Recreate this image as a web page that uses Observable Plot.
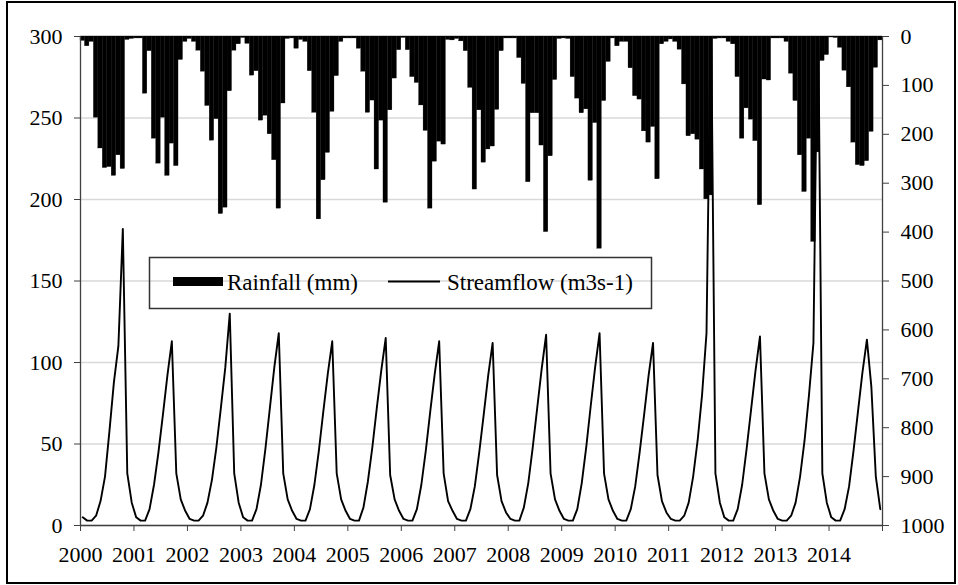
<!DOCTYPE html>
<html><head><meta charset="utf-8">
<script src="https://cdn.jsdelivr.net/npm/d3@7"></script>
<script src="https://cdn.jsdelivr.net/npm/@observablehq/plot@0.6"></script>
<style>
html,body{margin:0;padding:0;background:#fff;}
#chart{position:relative;width:958px;height:585px;overflow:hidden;}
#frame{position:absolute;left:6px;top:1px;width:950px;height:583px;border:2px solid #000;box-sizing:border-box;pointer-events:none;}
</style></head><body><div id="chart"><div id="frame"></div></div>
<script>
// ---- data (monthly, Jan 2000 – Dec 2014) ----
const years = [2000,2001,2002,2003,2004,2005,2006,2007,2008,2009,2010,2011,2012,2013,2014];
const yearLabels = years.map(String);

// Rainfall (mm), right axis (inverted 0–1000)
const rainfall = [
  9, 20, 11, 166, 229, 269, 267, 285, 243, 271, 7, 5,        // 2000
  4, 4, 117, 30, 209, 260, 166, 285, 219, 265, 48, 11,       // 2001
  5, 11, 29, 72, 142, 213, 169, 363, 350, 112, 29, 16,       // 2002
  3, 15, 80, 71, 172, 162, 200, 253, 352, 137, 5, 4,         // 2003
  25, 7, 11, 71, 156, 374, 294, 238, 154, 81, 11, 4,         // 2004
  4, 4, 25, 72, 156, 131, 272, 172, 340, 151, 86, 28,        // 2005
  3, 28, 83, 95, 141, 193, 352, 256, 215, 221, 7, 8,         // 2006
  5, 10, 30, 105, 313, 151, 258, 231, 225, 150, 30, 4,       // 2007
  4, 4, 44, 97, 298, 157, 157, 223, 400, 245, 89, 5,         // 2008
  4, 5, 83, 127, 157, 149, 295, 177, 434, 132, 52, 4,        // 2009
  20, 11, 11, 65, 122, 129, 194, 217, 185, 292, 16, 11,      // 2010
  6, 11, 27, 98, 204, 200, 211, 272, 333, 325, 5, 4,         // 2011
  4, 11, 16, 83, 209, 147, 170, 214, 345, 88, 90, 4,         // 2012
  4, 4, 11, 76, 132, 243, 318, 209, 420, 237, 50, 38,        // 2013
  2, 3, 23, 70, 104, 217, 263, 265, 255, 195, 64, 8          // 2014
];

// Streamflow (m3 s-1), left axis 0–300
const streamflow = [
  5, 3, 3, 6, 15, 30, 58, 88, 110, 182, 32, 14,              // 2000
  5, 3, 3, 10, 25, 45, 68, 92, 113, 32, 16, 9,               // 2001
  4, 3, 3, 6, 14, 28, 48, 72, 97, 130, 32, 14,               // 2002
  5, 3, 3, 10, 25, 47, 72, 97, 118, 32, 16, 9,               // 2003
  4, 3, 3, 10, 25, 46, 70, 93, 113, 32, 16, 9,               // 2004
  4, 3, 3, 11, 27, 48, 72, 95, 115, 31, 16, 9,               // 2005
  4, 3, 3, 10, 25, 46, 70, 93, 113, 32, 15, 9,               // 2006
  4, 3, 3, 10, 24, 45, 68, 92, 112, 31, 15, 8,               // 2007
  4, 3, 3, 11, 26, 48, 72, 96, 117, 32, 16, 9,               // 2008
  4, 3, 3, 10, 26, 48, 73, 97, 118, 32, 16, 9,               // 2009
  4, 3, 3, 10, 24, 45, 68, 92, 112, 31, 15, 8,               // 2010
  4, 3, 3, 6, 14, 30, 52, 80, 118, 320, 32, 14,              // 2011
  5, 3, 3, 10, 25, 47, 71, 95, 116, 32, 16, 9,               // 2012
  4, 3, 3, 6, 14, 30, 52, 80, 112, 330, 32, 14,              // 2013
  5, 3, 3, 10, 24, 46, 70, 94, 114, 85, 30, 10               // 2014
];

const leftTicks = [0, 50, 100, 150, 200, 250, 300];
const rightTicks = [0, 100, 200, 300, 400, 500, 600, 700, 800, 900, 1000];
const legendLabels = ["Rainfall (mm)", "Streamflow (m3s-1)"];
const FLOW_MAX = 300, RAIN_MAX = 1000;

// ---- derived tables ----
const toLeft = r => FLOW_MAX - r * FLOW_MAX / RAIN_MAX;
const rainRows = rainfall.map((r, i) => ({x1: i, x2: i + 1, y1: FLOW_MAX, y2: toLeft(r)}));
const flowRows = streamflow.map((v, i) => ({x: i + 0.5, v}));
const yearTickPos = years.map((y, k) => k * 12).concat([years.length * 12]);

const serif = "'Liberation Serif', 'Times New Roman', serif";

const plot = Plot.plot({
  width: 958,
  height: 585,
  marginLeft: 80,
  marginRight: 76,
  marginTop: 36,
  marginBottom: 60,
  style: {fontFamily: serif, fontSize: "22px", background: "transparent", color: "#000"},
  x: {domain: [0, years.length * 12], label: null},
  y: {domain: [0, FLOW_MAX], label: null},
  marks: [
    Plot.gridY(leftTicks, {stroke: "#d9d9d9", strokeOpacity: 1, strokeWidth: 1.3}),
    Plot.rect(rainRows, {x1: "x1", x2: "x2", y1: "y1", y2: "y2", fill: "#000", stroke: "#000", strokeWidth: 0.3}),
    Plot.line(flowRows, {x: "x", y: "v", stroke: "#000", strokeWidth: 1.9, clip: true}),
    Plot.ruleX([0], {stroke: "#404040", strokeWidth: 1.3}),
    Plot.ruleX([years.length * 12], {stroke: "#404040", strokeWidth: 1.3}),
    Plot.ruleY([0], {stroke: "#404040", strokeWidth: 1.3}),
    Plot.axisY(leftTicks, {anchor: "left", tickSize: 6, tickPadding: 12, label: null, stroke: "#404040"}),
    Plot.axisY(rightTicks.map(toLeft), {
      anchor: "right", tickSize: 6, tickPadding: 12, label: null, stroke: "#404040",
      tickFormat: d => String(Math.round((FLOW_MAX - d) * RAIN_MAX / FLOW_MAX))
    }),
    Plot.axisX(yearTickPos, {
      anchor: "bottom", tickSize: 6, tickPadding: 15, label: null, stroke: "#404040",
      tickFormat: d => (d / 12 < yearLabels.length ? yearLabels[d / 12] : "")
    })
  ]
});

document.getElementById("chart").prepend(plot);

// legend (transparent box inside the plot area)
const svg = d3.select(plot);
const lg = svg.append("g");
lg.append("rect").attr("x", 149.5).attr("y", 257.5).attr("width", 502).attr("height", 51)
  .attr("fill", "none").attr("stroke", "#333").attr("stroke-width", 1.5);
lg.append("rect").attr("x", 173).attr("y", 277).attr("width", 50).attr("height", 9).attr("fill", "#000");
lg.append("rect").attr("x", 388).attr("y", 280.5).attr("width", 52).attr("height", 2).attr("fill", "#000");
[[227, legendLabels[0]], [447, legendLabels[1]]].forEach(([x, t]) => {
  lg.append("text").attr("x", x).attr("y", 289.5)
    .attr("text-anchor", "start")
    .style("text-anchor", "start")
    .style("font-family", serif).style("font-size", "23px").style("fill", "#000")
    .text(t);
});
</script>
</body></html>
